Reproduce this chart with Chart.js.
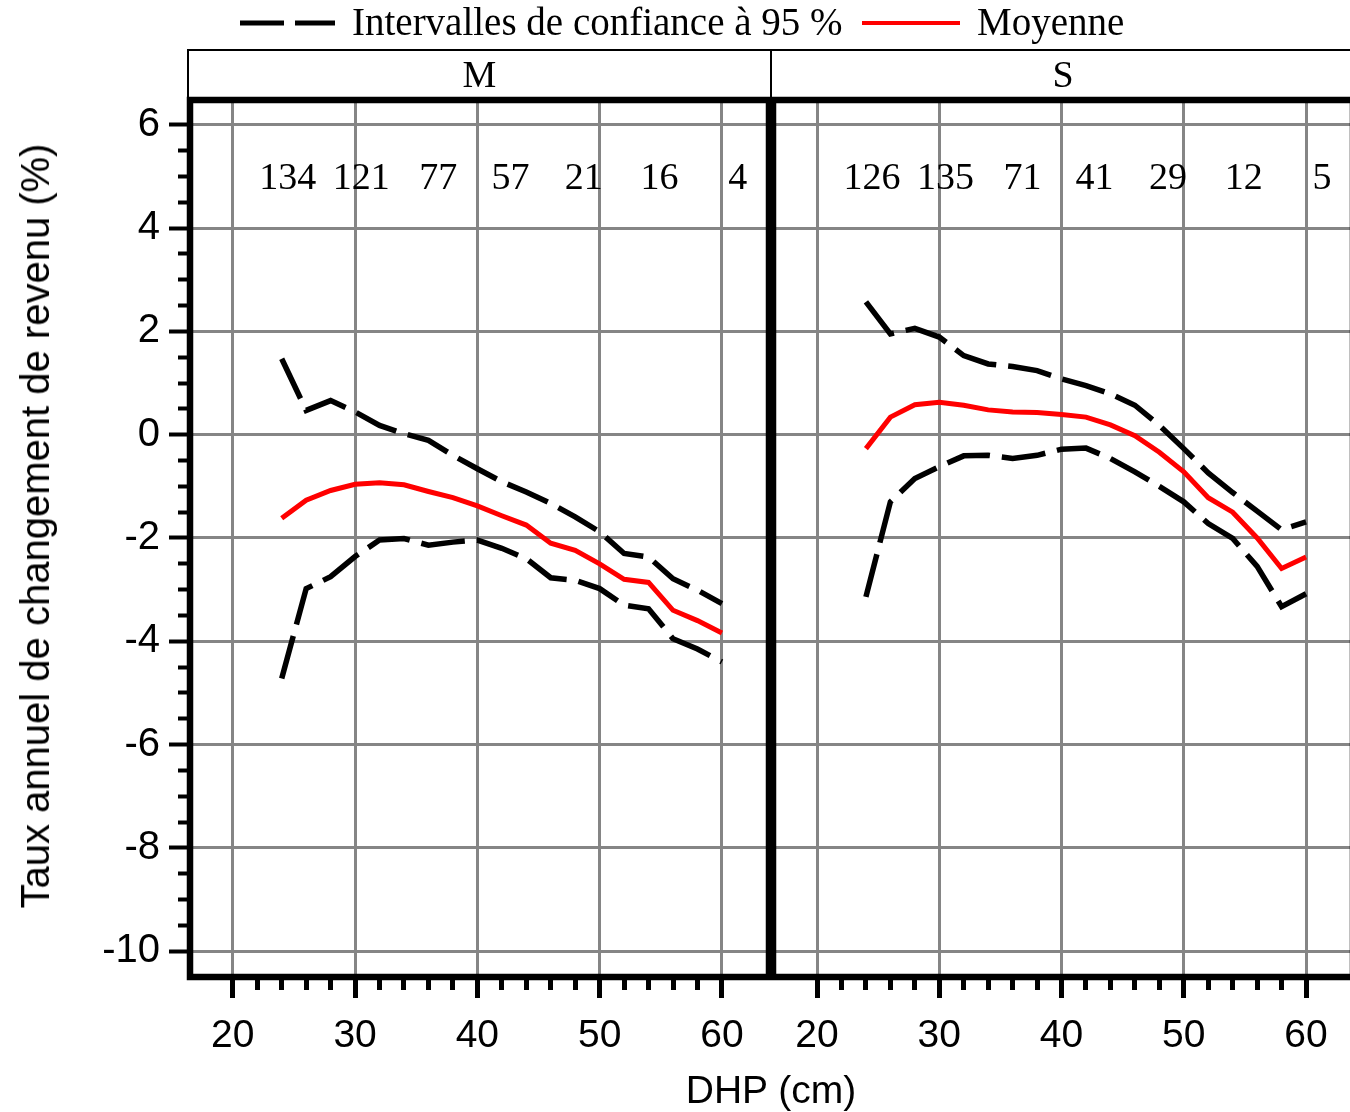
<!DOCTYPE html>
<html>
<head>
<meta charset="utf-8">
<script src="https://cdn.jsdelivr.net/npm/chart.js@4/dist/chart.umd.min.js"></script>
<style>
html,body{margin:0;padding:0;background:#fff;overflow:hidden;}
#wrap{position:relative;width:1350px;height:1112px;overflow:hidden;background:#fff;}
canvas{position:absolute;top:0;}
#c1{left:0;}
#c2{left:771px;}
.serif{position:absolute;font-family:"Liberation Serif","Times New Roman",serif;color:#000;white-space:nowrap;}
.sans{position:absolute;font-family:"Liberation Sans",Arial,sans-serif;color:#000;white-space:nowrap;}
#strip{position:absolute;left:187px;top:49px;width:1200px;height:50px;border-left:2px solid #000;border-top:2px solid #000;box-sizing:border-box;}
#stripdiv{position:absolute;left:770px;top:49px;width:2px;height:50px;background:#000;}
</style>
</head>
<body>
<div id="wrap">
  <canvas id="c1" width="771" height="1112"></canvas>
  <canvas id="c2" width="585" height="1112"></canvas>
  <svg style="position:absolute;left:240px;top:13px" width="95" height="20"><line x1="0" y1="10" x2="95" y2="10" stroke="#000" stroke-width="5" stroke-dasharray="44 11"/></svg>
  <div class="serif" id="leg1" style="left:352px;top:0px;font-size:39px;line-height:44px;"></div>
  <svg style="position:absolute;left:862px;top:13px" width="98" height="20"><line x1="0" y1="10" x2="98" y2="10" stroke="#ff0000" stroke-width="4"/></svg>
  <div class="serif" id="leg2" style="left:977px;top:0px;font-size:39px;line-height:44px;"></div>
  <div id="strip"></div>
  <div id="stripdiv"></div>
  <div class="serif" id="p1" style="left:190px;width:579px;text-align:center;top:52px;font-size:38px;line-height:44px;"></div>
  <div class="serif" id="p2" style="left:773px;width:580px;text-align:center;top:52px;font-size:38px;line-height:44px;"></div>
  <div class="sans" id="ytitle" style="left:35px;top:526px;font-size:40px;line-height:44px;transform:translate(-50%,-50%) rotate(-90deg);"></div>
  <div class="sans" id="xtitle" style="left:771px;top:1068px;font-size:39px;line-height:44px;transform:translateX(-50%);"></div>
</div>
<script>
// ---- data ----
const dhp = [24,26,28,30,32,34,36,38,40,42,44,46,48,50,52,54,56,58,60];
const meanM = [-1.62,-1.27,-1.08,-0.96,-0.93,-0.97,-1.10,-1.22,-1.38,-1.57,-1.75,-2.10,-2.24,-2.50,-2.80,-2.86,-3.40,-3.60,-3.84];
const lowM  = [-4.72,-2.98,-2.75,-2.36,-2.04,-2.01,-2.14,-2.08,-2.04,-2.20,-2.40,-2.77,-2.82,-2.98,-3.30,-3.37,-3.95,-4.15,-4.40];
const upM   = [1.47,0.47,0.66,0.44,0.18,0.02,-0.11,-0.40,-0.66,-0.91,-1.11,-1.33,-1.59,-1.88,-2.30,-2.37,-2.79,-3.01,-3.27];
const meanS = [-0.27,0.34,0.58,0.63,0.57,0.48,0.44,0.43,0.39,0.34,0.19,-0.02,-0.34,-0.72,-1.22,-1.50,-2.00,-2.59,-2.37];
const lowS  = [-3.14,-1.30,-0.85,-0.62,-0.41,-0.40,-0.46,-0.40,-0.28,-0.26,-0.46,-0.72,-1.00,-1.30,-1.72,-2.01,-2.55,-3.33,-3.08];
const upS   = [2.57,1.95,2.06,1.89,1.53,1.37,1.32,1.24,1.08,0.95,0.79,0.57,0.18,-0.27,-0.74,-1.12,-1.48,-1.84,-1.69];
const countPos = [24.5,30.5,36.8,42.7,48.7,54.9,61.3];
const countsM = ['134','121','77','57','21','16','4'];
const countsS = ['126','135','71','41','29','12','5'];
const countRowY = 5;
const xTicks = [20,30,40,50,60];
const xTickLabels = ['20','30','40','50','60'];
const yTicks = [6,4,2,0,-2,-4,-6,-8,-10];
const yTickLabels = ['6','4','2','0','-2','-4','-6','-8','-10'];
const panelLabels = ['M','S'];
const legendLabels = ['Intervalles de confiance à 95 %','Moyenne'];
const yTitle = 'Taux annuel de changement de revenu (%)';
const xTitle = 'DHP (cm)';

document.getElementById('leg1').textContent = legendLabels[0];
document.getElementById('leg2').textContent = legendLabels[1];
document.getElementById('p1').textContent = panelLabels[0];
document.getElementById('p2').textContent = panelLabels[1];
document.getElementById('ytitle').textContent = yTitle;
document.getElementById('xtitle').textContent = xTitle;

const minorX = []; for (let v = 22; v <= 58; v += 2) if (v % 10 !== 0) minorX.push(v);
const minorY = []; for (let v = -10; v <= 6; v += 0.5) if (v % 2 !== 0) minorY.push(v);

function pts(arr){ return dhp.map((x,i)=>({x:x, y:arr[i]})); }

const framePlugin = {
  id:'frame',
  afterDraw(chart){
    const a = chart.chartArea, ctx = chart.ctx;
    ctx.save();
    ctx.strokeStyle = '#000';
    ctx.lineWidth = 6.5;
    ctx.strokeRect(a.left, a.top, a.right - a.left, a.bottom - a.top);
    ctx.restore();
  }
};
const countPlugin = {
  id:'counts',
  afterDatasetsDraw(chart){
    const ctx = chart.ctx, xs = chart.scales.x, ys = chart.scales.y;
    const labels = chart.options.plugins.counts.labels;
    ctx.save();
    ctx.font = '38px "Liberation Serif"';
    ctx.fillStyle = '#000';
    ctx.textAlign = 'center';
    ctx.textBaseline = 'middle';
    labels.forEach((t,i)=>{
      ctx.fillText(t, xs.getPixelForValue(countPos[i]), ys.getPixelForValue(countRowY) + 3);
    });
    ctx.restore();
  }
};

function makeChart(id, mean, low, up, counts, isLeft, xmin, xmax){
  const dashed = {borderColor:'#000', borderWidth:5.5, borderDash:[44,12], pointRadius:0, tension:0, fill:false, borderCapStyle:'butt'};
  const tickFont = {family:'Liberation Sans', size:39};
  const yFont = {family:'Liberation Sans', size:40};
  return new Chart(document.getElementById(id), {
    type:'line',
    data:{datasets:[
      Object.assign({label:'up', data:pts(up)}, dashed),
      Object.assign({label:'low', data:pts(low)}, dashed),
      {label:'mean', data:pts(mean), borderColor:'#ff0000', borderWidth:5, pointRadius:0, tension:0, fill:false}
    ]},
    options:{
      responsive:false, animation:false, devicePixelRatio:1,
      layout:{padding:{left: isLeft?0:2, right: isLeft?2:3, top:100, bottom:0}},
      plugins:{legend:{display:false}, tooltip:{enabled:false}, title:{display:false}, counts:{labels:counts}},
      scales:{
        x:{type:'linear', position:'bottom', weight:1, min:xmin, max:xmax,
          afterBuildTicks:s=>{ s.ticks = xTicks.map(v=>({value:v})); },
          afterFit:s=>{ s.height = 135; },
          ticks:{callback:(v,i)=>xTickLabels[i], font:tickFont, color:'#000', padding:15, maxRotation:0, autoSkip:false},
          grid:{color:'#858585', lineWidth:3, tickColor:'#000', tickWidth:5, tickLength:21, drawTicks:true},
          border:{display:false}},
        xm:{type:'linear', position:'bottom', weight:0, min:xmin, max:xmax,
          afterBuildTicks:s=>{ s.ticks = minorX.map(v=>({value:v})); },
          afterFit:s=>{ s.height = 0; },
          ticks:{display:false},
          grid:{drawOnChartArea:false, tickColor:'#000', tickWidth:5, tickLength:13, drawTicks:true},
          border:{display:false}},
        y:{type:'linear', position:'left', weight:1, min:-10.5, max:6.48,
          afterBuildTicks:s=>{ s.ticks = yTicks.map(v=>({value:v})); },
          afterFit:s=>{ s.width = isLeft ? 190 : 0; },
          ticks:{display:isLeft, callback:(v,i)=>yTickLabels[i], font:yFont, color:'#000', padding:9, autoSkip:false},
          grid:{color:'#858585', lineWidth:3, tickColor:'#000', tickWidth:4, tickLength:21, drawTicks:isLeft},
          border:{display:false}},
        ym:{type:'linear', position:'left', weight:0, display:isLeft, min:-10.5, max:6.48,
          afterBuildTicks:s=>{ s.ticks = minorY.map(v=>({value:v})); },
          afterFit:s=>{ s.width = 0; },
          ticks:{display:false},
          grid:{drawOnChartArea:false, tickColor:'#000', tickWidth:4, tickLength:12, drawTicks:true},
          border:{display:false}}
      }
    },
    plugins:[countPlugin, framePlugin]
  });
}

makeChart('c1', meanM, lowM, upM, countsM, true, 16.5, 63.85);
makeChart('c2', meanS, lowS, upS, countsS, false, 16.4, 63.84);
</script>
</body>
</html>
